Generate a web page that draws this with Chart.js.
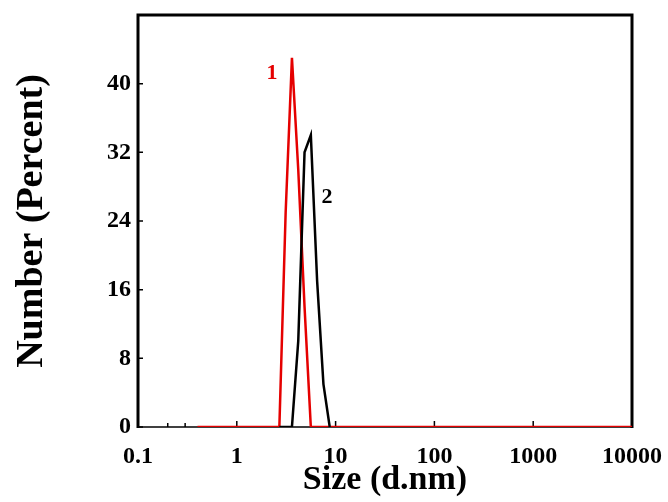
<!DOCTYPE html>
<html>
<head>
<meta charset="utf-8">
<script src="https://cdn.jsdelivr.net/npm/chart.js@4.4.0/dist/chart.umd.min.js"></script>
<style>
html, body { margin: 0; padding: 0; background: #fff; }
</style>
</head>
<body>
<canvas id="myChart" width="668" height="502"></canvas>
<script>
// size bins (d.nm) and number %
const sizes1 = [0.4, 2.328, 2.696, 3.122, 3.615, 4.187, 4.849, 5.615, 6.503, 7.531, 8.721, 10.1, 10000];
const number1 = [0, 0, 0, 25, 43, 30, 14, 0, 0, 0, 0, 0, 0];
const sizes2 = [2.696, 3.122, 3.615, 4.187, 4.849, 5.615, 6.503, 7.531, 8.721];
const number2 = [0, 0, 0, 10, 32, 34, 17, 5, 0];
const xTicks = [0.1, 1, 10, 100, 1000, 10000];
const xMinor = [0.2, 0.3];
const yTicks = [0, 8, 16, 24, 32, 40];
// curve labels: [text, size, number, colour]
const curveLabels = [['1', 2.27, 41.2, '#e50000'], ['2', 8.2, 26.8, '#000']];

const serif = '"Liberation Serif", "DejaVu Serif", serif';
const red = '#e50000';

const framePlugin = {
    id: 'frame',
    beforeDatasetsDraw(chart) {
        const {ctx, chartArea: a, scales: {x, y}} = chart;
        ctx.save();
        ctx.strokeStyle = '#000';
        // thin bottom axis
        ctx.lineWidth = 1.5;
        ctx.beginPath();
        ctx.moveTo(a.left, a.bottom);
        ctx.lineTo(a.right, a.bottom);
        ctx.stroke();
        // thick left / top / right
        ctx.lineWidth = 3;
        ctx.beginPath();
        ctx.moveTo(a.left, a.bottom + 1);
        ctx.lineTo(a.left, a.top);
        ctx.lineTo(a.right, a.top);
        ctx.lineTo(a.right, a.bottom + 1);
        ctx.stroke();
        // inward ticks
        ctx.lineWidth = 1.5;
        ctx.beginPath();
        yTicks.forEach(v => {
            const py = y.getPixelForValue(v);
            ctx.moveTo(a.left, py);
            ctx.lineTo(a.left + 5, py);
        });
        xTicks.forEach(v => {
            const px = x.getPixelForValue(v);
            ctx.moveTo(px, a.bottom);
            ctx.lineTo(px, a.bottom - 6);
        });
        xMinor.forEach(v => {
            const px = x.getPixelForValue(v);
            ctx.moveTo(px, a.bottom);
            ctx.lineTo(px, a.bottom - 4);
        });
        ctx.stroke();
        ctx.restore();
    },
    afterDraw(chart) {
        const {ctx, scales: {x, y}} = chart;
        ctx.save();
        ctx.font = 'bold 22px ' + serif;
        ctx.textAlign = 'center';
        ctx.textBaseline = 'middle';
        curveLabels.forEach(([t, sx, sy, c]) => {
            ctx.fillStyle = c;
            ctx.fillText(t, x.getPixelForValue(sx), y.getPixelForValue(sy));
        });
        ctx.restore();
    }
};

const ctx = document.getElementById('myChart').getContext('2d');
const myChart = new Chart(ctx, {
    type: 'scatter',
    data: {
        datasets: [{
            label: '2',
            data: sizes2.map((s, i) => ({x: s, y: number2[i]})),
            showLine: true,
            borderColor: '#000',
            borderWidth: 2.5,
            pointRadius: 0,
            tension: 0
        }, {
            label: '1',
            data: sizes1.map((s, i) => ({x: s, y: number1[i]})),
            showLine: true,
            borderColor: red,
            borderWidth: 2.5,
            pointRadius: 0,
            tension: 0
        }]
    },
    options: {
        responsive: false,
        animation: false,
        layout: { padding: { top: 15, right: 36, left: 0, bottom: 0 } },
        plugins: {
            legend: { display: false },
            tooltip: { enabled: false }
        },
        scales: {
            x: {
                type: 'logarithmic',
                min: 0.1,
                max: 10000,
                afterBuildTicks: s => { s.ticks = xTicks.map(v => ({value: v})); },
                afterFit: s => { s.height = 75; s.paddingLeft = 0; s.paddingRight = 0; },
                grid: { display: false, drawTicks: false },
                border: { display: false },
                ticks: {
                    color: '#000',
                    padding: 15,
                    autoSkip: false,
                    maxRotation: 0,
                    font: { family: serif, size: 24, weight: 'bold' },
                    callback: v => String(v)
                },
                title: {
                    display: true,
                    text: 'Size (d.nm)',
                    color: '#000',
                    padding: { top: 0, bottom: 1 },
                    font: { family: serif, size: 34, weight: 'bold' }
                }
            },
            y: {
                min: 0,
                max: 48,
                afterBuildTicks: s => { s.ticks = yTicks.map(v => ({value: v})); },
                afterFit: s => { s.width = 138; s.paddingTop = 0; s.paddingBottom = 0; },
                grid: { display: false, drawTicks: false },
                border: { display: false },
                ticks: {
                    color: '#000',
                    padding: 7,
                    font: { family: serif, size: 24, weight: 'bold' }
                },
                title: {
                    display: true,
                    text: 'Number (Percent)',
                    color: '#000',
                    padding: { top: 9, bottom: 0 },
                    font: { family: serif, size: 38, weight: 'bold' }
                }
            }
        }
    },
    plugins: [framePlugin]
});
</script>
</body>
</html>
